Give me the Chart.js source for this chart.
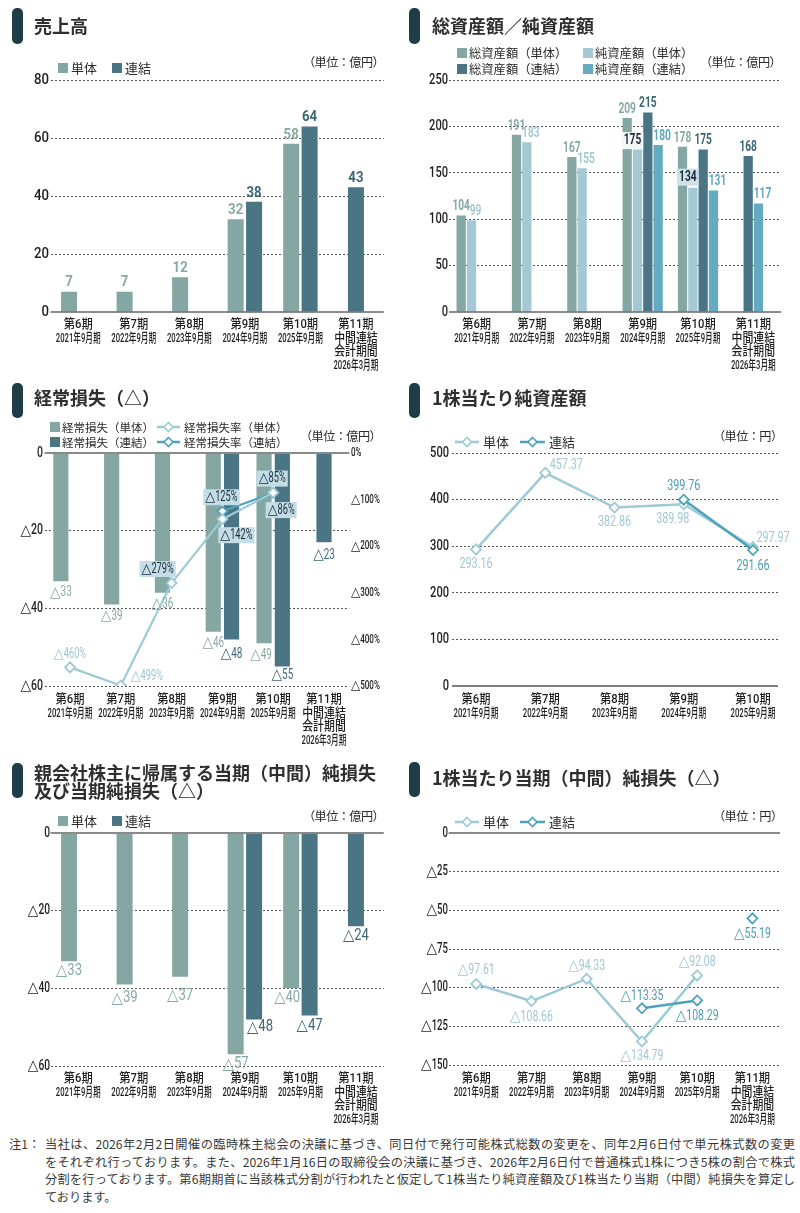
<!DOCTYPE html>
<html lang="ja">
<head>
<meta charset="UTF-8">
<title>業績ハイライト</title>
<script src="https://cdn.jsdelivr.net/npm/chart.js@4"></script>
<style>
  body {
    margin: 0;
    width: 800px;
    height: 1213px;
    position: relative;
    background: #fff;
    color: #333;
    font-family: Roboto, "Noto Sans CJK JP", sans-serif;
    overflow: hidden;
  }
  .panel { position: absolute; width: 400px; }
  .panel canvas { position: absolute; left: 0; top: 0; }
  .mark { position: absolute; width: 10.5px; background: #1e3d47; border-radius: 5px; }
  .ttl {
    position: absolute;
    font-family: "Noto Sans CJK JP", sans-serif;
    font-weight: bold;
    font-size: 18px;
    line-height: 18.5px;
    white-space: nowrap;
    color: #2f2f2f;
  }
  .unit {
    position: absolute;
    font-family: "Noto Sans CJK JP", sans-serif;
    font-size: 12.2px;
    letter-spacing: -0.6px;
    line-height: 14px;
    white-space: nowrap;
    color: #2a2a2a;
  }
  .lg {
    position: absolute;
    font-family: "Noto Sans CJK JP", sans-serif;
    font-size: 13px;
    line-height: 16px;
    white-space: nowrap;
    color: #2a2a2a;
  }
  .sq { position: absolute; width: 10px; height: 10px; }
  .ico { position: absolute; }
  .note {
    position: absolute;
    left: 0;
    top: 1136px;
    width: 800px;
    font-family: "Noto Sans CJK JP", sans-serif;
    font-size: 12.2px;
    line-height: 17.5px;
    color: #3a3a3a;
  }
  .note div { margin-left: 45px; width: 750px; white-space: nowrap; }
  .note div.full { text-align: justify; text-align-last: justify; }
  .note span { position: absolute; left: 9px; top: 0; }
</style>
</head>
<body>

<!-- 売上高 -->
<div class="panel" style="left:0;top:0;height:380px">
  <canvas id="c1" width="400" height="380"></canvas>
  <div class="mark" style="left:12px;top:8px;height:36px"></div>
  <div class="ttl" style="left:34px;top:16px">売上高</div>
  <div class="sq" style="left:58px;top:63px;background:#84a7a4"></div>
  <div class="lg" style="left:71px;top:60px">単体</div>
  <div class="sq" style="left:112px;top:63px;background:#4a7585"></div>
  <div class="lg" style="left:125px;top:60px">連結</div>
  <div class="unit" style="left:303px;top:55px">（単位：億円）</div>
</div>

<!-- 総資産額／純資産額 -->
<div class="panel" style="left:400px;top:0;height:380px">
  <canvas id="c2" width="400" height="380"></canvas>
  <div class="mark" style="left:9px;top:8px;height:36px"></div>
  <div class="ttl" style="left:32px;top:16px">総資産額／純資産額</div>
  <div class="sq" style="left:57px;top:48px;background:#84a7a4"></div>
  <div class="lg" style="left:69px;top:44.5px;font-size:12.3px">総資産額（単体）</div>
  <div class="sq" style="left:183px;top:48px;background:#a5c9d4"></div>
  <div class="lg" style="left:195px;top:44.5px;font-size:12.3px">純資産額（単体）</div>
  <div class="sq" style="left:57px;top:64px;background:#4a7585"></div>
  <div class="lg" style="left:69px;top:60.5px;font-size:12.3px">総資産額（連結）</div>
  <div class="sq" style="left:183px;top:64px;background:#64abc1"></div>
  <div class="lg" style="left:195px;top:60.5px;font-size:12.3px">純資産額（連結）</div>
  <div class="unit" style="left:300px;top:55px">（単位：億円）</div>
</div>

<!-- 経常損失 -->
<div class="panel" style="left:0;top:380px;height:370px">
  <canvas id="c3" width="400" height="370"></canvas>
  <div class="mark" style="left:12px;top:3px;height:35px"></div>
  <div class="ttl" style="left:34px;top:8px">経常損失（△）</div>
  <div class="sq" style="left:50px;top:42px;background:#84a7a4"></div>
  <div class="lg" style="left:62px;top:39px;font-size:11.5px">経常損失（単体）</div>
  <svg class="ico" style="left:157px;top:41px" width="23" height="12"><line x1="0" y1="6" x2="23" y2="6" stroke="#9dcad6" stroke-width="2.5"/><polygon points="11.5,1.5 16,6 11.5,10.5 7,6" fill="#fff" stroke="#9dcad6" stroke-width="1.6"/></svg>
  <div class="lg" style="left:184px;top:39px;font-size:11.5px">経常損失率（単体）</div>
  <div class="sq" style="left:50px;top:57px;background:#4a7585"></div>
  <div class="lg" style="left:62px;top:54px;font-size:11.5px">経常損失（連結）</div>
  <svg class="ico" style="left:157px;top:56px" width="23" height="12"><line x1="0" y1="6" x2="23" y2="6" stroke="#4ea2ba" stroke-width="2.5"/><polygon points="11.5,1.5 16,6 11.5,10.5 7,6" fill="#fff" stroke="#4ea2ba" stroke-width="1.6"/></svg>
  <div class="lg" style="left:184px;top:54px;font-size:11.5px">経常損失率（連結）</div>
  <div class="unit" style="left:300px;top:49px">（単位：億円）</div>
</div>

<!-- 1株当たり純資産額 -->
<div class="panel" style="left:400px;top:380px;height:370px">
  <canvas id="c4" width="400" height="370"></canvas>
  <div class="mark" style="left:9px;top:3px;height:35px"></div>
  <div class="ttl" style="left:32px;top:8px">1株当たり純資産額</div>
  <svg class="ico" style="left:55px;top:56px" width="24" height="12"><line x1="0" y1="6" x2="24" y2="6" stroke="#9dcad6" stroke-width="2.5"/><polygon points="12,1.5 16.5,6 12,10.5 7.5,6" fill="#fff" stroke="#9dcad6" stroke-width="1.6"/></svg>
  <div class="lg" style="left:83px;top:54px">単体</div>
  <svg class="ico" style="left:120px;top:56px" width="25" height="12"><line x1="0" y1="6" x2="25" y2="6" stroke="#4ea2ba" stroke-width="2.5"/><polygon points="12.5,1.5 17,6 12.5,10.5 8,6" fill="#fff" stroke="#4ea2ba" stroke-width="1.6"/></svg>
  <div class="lg" style="left:149px;top:54px">連結</div>
  <div class="unit" style="left:313px;top:49px">（単位：円）</div>
</div>

<!-- 親会社株主に帰属する当期（中間）純損失 -->
<div class="panel" style="left:0;top:750px;height:385px">
  <canvas id="c5" width="400" height="385"></canvas>
  <div class="mark" style="left:12px;top:13px;height:35px"></div>
  <div class="ttl" style="left:34px;top:12.5px">親会社株主に帰属する当期（中間）純損失<br>及び当期純損失（△）</div>
  <div class="sq" style="left:58px;top:66px;background:#84a7a4"></div>
  <div class="lg" style="left:71px;top:63px">単体</div>
  <div class="sq" style="left:112px;top:66px;background:#4a7585"></div>
  <div class="lg" style="left:125px;top:63px">連結</div>
  <div class="unit" style="left:303px;top:59px">（単位：億円）</div>
</div>

<!-- 1株当たり当期（中間）純損失 -->
<div class="panel" style="left:400px;top:750px;height:385px">
  <canvas id="c6" width="400" height="385"></canvas>
  <div class="mark" style="left:9px;top:12px;height:35px"></div>
  <div class="ttl" style="left:32px;top:18px">1株当たり当期（中間）純損失（△）</div>
  <svg class="ico" style="left:55px;top:66px" width="24" height="12"><line x1="0" y1="6" x2="24" y2="6" stroke="#9dcad6" stroke-width="2.5"/><polygon points="12,1.5 16.5,6 12,10.5 7.5,6" fill="#fff" stroke="#9dcad6" stroke-width="1.6"/></svg>
  <div class="lg" style="left:83px;top:64px">単体</div>
  <svg class="ico" style="left:120px;top:66px" width="25" height="12"><line x1="0" y1="6" x2="25" y2="6" stroke="#4ea2ba" stroke-width="2.5"/><polygon points="12.5,1.5 17,6 12.5,10.5 8,6" fill="#fff" stroke="#4ea2ba" stroke-width="1.6"/></svg>
  <div class="lg" style="left:149px;top:64px">連結</div>
  <div class="unit" style="left:313px;top:59px">（単位：円）</div>
</div>

<div class="note">
  <span>注1：</span>
  <div class="full">当社は、2026年2月2日開催の臨時株主総会の決議に基づき、同日付で発行可能株式総数の変更を、同年2月6日付で単元株式数の変更</div>
  <div class="full">をそれぞれ行っております。また、2026年1月16日の取締役会の決議に基づき、2026年2月6日付で普通株式1株につき5株の割合で株式</div>
  <div class="full">分割を行っております。第6期期首に当該株式分割が行われたと仮定して1株当たり純資産額及び1株当たり当期（中間）純損失を算定し</div>
  <div>ております。</div>
</div>

<script>
// ---- data ----
const periods = [
  ['第6期', '2021年9月期'],
  ['第7期', '2022年9月期'],
  ['第8期', '2023年9月期'],
  ['第9期', '2024年9月期'],
  ['第10期', '2025年9月期'],
  ['第11期', '中間連結', '会計期間', '2026年3月期']
];
const bpsPeriods = periods.slice(0, 5);

const salesSingle = [7, 7, 12, 32, 58, null];
const salesConsol = [null, null, null, 38, 64, 43];

const totalAssetsSingle = [104, 191, 167, 209, 178, null];
const netAssetsSingle = [99, 183, 155, 175, 134, null];
const totalAssetsConsol = [null, null, null, 215, 175, 168];
const netAssetsConsol = [null, null, null, 180, 131, 117];

const ordLossSingle = [-33, -39, -36, -46, -49, null];
const ordLossConsol = [null, null, null, -48, -55, -23];
const ordLossRateSingle = [-460, -499, -279, -142, -85, null];
const ordLossRateConsol = [null, null, null, -125, -86, null];

const bpsSingle = [293.16, 457.37, 382.86, 389.98, 297.97];
const bpsConsol = [null, null, null, 399.76, 291.66];

const netLossSingle = [-33, -39, -37, -57, -40, null];
const netLossConsol = [null, null, null, -48, -47, -24];

const epsSingle = [-97.61, -108.66, -94.33, -134.79, -92.08, null];
const epsConsol = [null, null, null, -113.35, -108.29, -55.19];

// ---- colours ----
const C = {
  single: '#84a7a4',
  consol: '#4a7585',
  netSingle: '#a5c9d4',
  netConsol: '#64abc1',
  lineSingle: '#9dcad6',
  lineConsol: '#4ea2ba',
  lblSingle: '#87a9a6',
  lblConsol: '#3d6676',
  lblLineSingle: '#9cc6d3',
  lblLineConsol: '#4c9cb5',
  dark: '#1d2a3a'
};
const FONT = 'Roboto, "Noto Sans CJK JP", sans-serif';
const TRI_FONT = '"DejaVu Sans", sans-serif';
const last = periods.length - 1;
const onlyBefore = arr => arr.map((v, i) => (i < last ? v : null));
const onlyLast = arr => arr.map((v, i) => (i === last ? v : null));

const tri = v => (v < 0 ? '△' + Math.abs(v) : String(v));
const tri2 = v => '△' + Math.abs(v).toFixed(2);
const pct = v => (v < 0 ? '△' + Math.abs(v) + '%' : '0%');

// text squeezed horizontally, like the condensed face of the original;
// a leading △ is set in its own face so it keeps its size
function txt(ctx, s, x, y, o) {
  ctx.save();
  ctx.textBaseline = 'middle';
  ctx.textAlign = 'left';
  const weight = o.weight || 'normal';
  const sx = o.sx || 1;
  const hasTri = s.charAt(0) === '△';
  const rest = hasTri ? s.slice(1) : s;
  const triFont = 'normal ' + o.size + 'px ' + TRI_FONT;
  let triW = 0;
  if (hasTri) {
    ctx.font = triFont;
    triW = ctx.measureText('△').width * 0.92;
  }
  ctx.font = weight + ' ' + o.size + 'px ' + FONT;
  const restW = ctx.measureText(rest).width * sx;
  const w = triW + restW;
  const left = o.align === 'right' ? x - w : o.align === 'left' ? x : x - w / 2;
  if (o.bg) {
    ctx.fillStyle = o.bg;
    ctx.fillRect(left - 2, y - o.size / 2 - 1, w + 4, o.size + 2);
  }
  ctx.fillStyle = o.color;
  if (hasTri) {
    ctx.save();
    ctx.font = triFont;
    ctx.translate(left, y);
    ctx.scale(0.92, 1);
    ctx.fillText('△', 0, 0);
    ctx.restore();
  }
  ctx.translate(left + triW, y);
  ctx.scale(sx, 1);
  ctx.fillText(rest, 0, 0);
  ctx.restore();
}

const deco = {
  id: 'deco',
  afterDatasetsDraw(chart, args, o) {
    const ctx = chart.ctx, a = chart.chartArea, y = chart.scales.y;
    // zero line
    const py = y.getPixelForValue(0);
    ctx.save();
    ctx.strokeStyle = o.zeroColor;
    ctx.lineWidth = o.zeroWidth;
    ctx.beginPath();
    ctx.moveTo(a.left, py);
    ctx.lineTo(a.right, py);
    ctx.stroke();
    ctx.restore();
    // value labels
    (o.vals || []).forEach((cfg, di) => {
      if (!cfg) return;
      const meta = chart.getDatasetMeta(di);
      const data = chart.data.datasets[di].data;
      meta.data.forEach((el, i) => {
        const raw = data[i];
        const v = raw !== null && typeof raw === 'object' ? raw.y : raw;
        if (v === null || v === undefined) return;
        const c = Object.assign({}, cfg, (cfg.over || {})[i]);
        txt(ctx, c.fmt(v), el.x + (c.dx || 0), el.y + (c.dy || 0), c);
      });
    });
  },
  afterDraw(chart, args, o) {
    const ctx = chart.ctx, a = chart.chartArea, x = chart.scales.x, y = chart.scales.y;
    const cats = o.cats || chart.data.labels;
    cats.forEach((lines, i) => {
      const px = x.getPixelForValue(i);
      lines.forEach((s, j) => {
        const sx = j === 0 ? 0.88 : (/年/.test(s) ? 0.6 : 0.85);
        txt(ctx, s, px, a.bottom + o.xTop + j * 13.5, { size: 12.8, weight: '500', color: '#1e1e1e', sx });
      });
    });
    y.ticks.forEach(t => {
      txt(ctx, o.yFmt(t.value), o.yRight, y.getPixelForValue(t.value),
        { size: 15, weight: '500', color: '#1e1e1e', sx: o.ySx, align: 'right' });
    });
    if (o.y2Left) {
      const y2 = chart.scales.y2;
      y2.ticks.forEach(t => {
        txt(ctx, pct(t.value), o.y2Left, y2.getPixelForValue(t.value),
          { size: 13, weight: '500', color: '#1e1e1e', sx: 0.62, align: 'left' });
      });
    }
  }
};

function yAxis(min, max, step, extra) {
  return Object.assign({
    min, max,
    ticks: { display: false, stepSize: step },
    grid: {
      color: c => (c.tick && c.tick.value === 0 ? 'rgba(0,0,0,0)' : '#555'),
      lineWidth: 1,
      drawTicks: false
    },
    border: { display: false, dash: [2, 2] },
    afterFit: s => { s.width = 0; }
  }, extra || {});
}

function options(pad, scales, decoOpts) {
  return {
    responsive: false,
    animation: false,
    events: [],
    layout: { padding: pad },
    plugins: { legend: { display: false }, tooltip: { enabled: false }, deco: decoOpts },
    scales
  };
}

function lineSet(data, color, extra) {
  return Object.assign({
    type: 'line',
    data,
    borderColor: color,
    borderWidth: 2.5,
    pointStyle: 'rectRot',
    pointRadius: 5,
    pointBackgroundColor: '#fff',
    pointBorderColor: color,
    pointBorderWidth: 1.8,
    spanGaps: false
  }, extra || {});
}

// ---- 売上高 ----
const bar1 = { categoryPercentage: 0.663, barPercentage: 0.87 };
new Chart(document.getElementById('c1'), {
  type: 'bar',
  data: {
    labels: periods,
    datasets: [
      Object.assign({ data: salesSingle, backgroundColor: C.single }, bar1),
      Object.assign({ data: onlyBefore(salesConsol), backgroundColor: C.consol }, bar1),
      { data: onlyLast(salesConsol), backgroundColor: C.consol, grouped: false,
        categoryPercentage: 0.663, barPercentage: 0.435 }
    ]
  },
  options: options({ left: 50.5, right: 16.3, top: 80, bottom: 68 },
    { x: { display: false }, y: yAxis(0, 80, 20) },
    {
      zeroColor: '#666', zeroWidth: 1.5, xTop: 13, yRight: 49, ySx: 0.88, yFmt: tri,
      vals: [
        { fmt: tri, color: C.lblSingle, size: 15, weight: 'bold', sx: 0.88, dy: -9 },
        { fmt: tri, color: C.lblConsol, size: 15, weight: 'bold', sx: 0.88, dy: -9 },
        { fmt: tri, color: C.lblConsol, size: 15, weight: 'bold', sx: 0.88, dy: -9 }
      ]
    }),
  plugins: [deco]
});

// ---- 総資産額／純資産額 ----
const bar2 = { categoryPercentage: 0.746, barPercentage: 0.9 };
const lbl2 = (color, dx, over) => ({ fmt: tri, color, size: 15, weight: 'bold', sx: 0.68, dx, dy: -9, over });
new Chart(document.getElementById('c2'), {
  type: 'bar',
  data: {
    labels: periods,
    datasets: [
      Object.assign({ data: totalAssetsSingle, backgroundColor: C.single, stack: 'a' }, bar2),
      Object.assign({ data: netAssetsSingle, backgroundColor: C.netSingle, stack: 'b' }, bar2),
      Object.assign({ data: onlyBefore(totalAssetsConsol), backgroundColor: C.consol, stack: 'c' }, bar2),
      Object.assign({ data: onlyBefore(netAssetsConsol), backgroundColor: C.netConsol, stack: 'd' }, bar2),
      Object.assign({ data: onlyLast(totalAssetsConsol), backgroundColor: C.consol, stack: 'b' }, bar2),
      Object.assign({ data: onlyLast(netAssetsConsol), backgroundColor: C.netConsol, stack: 'c' }, bar2)
    ]
  },
  options: options({ left: 49, right: 19, top: 80, bottom: 68 },
    { x: { display: false, stacked: true }, y: yAxis(0, 250, 50, { stacked: false }) },
    {
      zeroColor: '#666', zeroWidth: 1.5, xTop: 13, yRight: 48, ySx: 0.74, yFmt: tri,
      vals: [
        lbl2('#86a8a5', 0),
        lbl2('#a5c8d3', 4, {
          3: { dx: -5, color: C.dark, bg: '#f3f7f8' },
          4: { dx: -5, dy: -10.5, color: C.dark, bg: '#cfe1e8' }
        }),
        lbl2('#3c6575', 0),
        lbl2('#5fa7bd', 4),
        lbl2('#3c6575', 0),
        lbl2('#5fa7bd', 4)
      ]
    }),
  plugins: [deco]
});

// ---- 経常損失 ----
const bar3 = { categoryPercentage: 0.72, barPercentage: 0.83 };
const boxed = { color: C.dark, bg: '#c3dde7' };
new Chart(document.getElementById('c3'), {
  type: 'bar',
  data: {
    labels: periods,
    datasets: [
      lineSet(ordLossRateSingle, C.lineSingle, { yAxisID: 'y2', borderWidth: 2.2 }),
      lineSet(ordLossRateConsol, C.lineConsol, { yAxisID: 'y2', borderWidth: 2.2 }),
      Object.assign({ data: ordLossSingle, backgroundColor: C.single }, bar3),
      Object.assign({ data: onlyBefore(ordLossConsol), backgroundColor: C.consol }, bar3),
      { data: onlyLast(ordLossConsol), backgroundColor: C.consol, grouped: false,
        categoryPercentage: 0.72, barPercentage: 0.415 }
    ]
  },
  options: options({ left: 44.6, right: 50.6, top: 73, bottom: 64 },
    {
      x: { display: false },
      y: yAxis(-60, 0, 20),
      y2: yAxis(-500, 0, 100, { position: 'right', grid: { display: false } })
    },
    {
      zeroColor: '#8a8a8a', zeroWidth: 2, xTop: 14, yRight: 43, ySx: 0.7, yFmt: tri, y2Left: 351,
      vals: [
        { fmt: pct, color: C.lblLineSingle, size: 14, sx: 0.66, over: {
          0: { dy: -13 },
          1: { dx: 26, dy: -9 },
          2: Object.assign({ dx: -14, dy: -14 }, boxed),
          3: Object.assign({ dx: 14, dy: 16 }, boxed),
          4: Object.assign({ dx: -1, dy: -14 }, boxed)
        } },
        { fmt: pct, color: C.lblLineConsol, size: 14, sx: 0.66, over: {
          3: Object.assign({ dx: -1, dy: -14 }, boxed),
          4: Object.assign({ dx: 8, dy: 17 }, boxed)
        } },
        { fmt: tri, color: C.lblSingle, size: 15, sx: 0.66, dy: 11.5, over: { 4: { dx: -3 } } },
        { fmt: tri, color: C.lblConsol, size: 15, sx: 0.66, dy: 13, over: { 3: { dy: 15 }, 4: { dy: 9 } } },
        { fmt: tri, color: C.lblConsol, size: 15, sx: 0.66, dy: 13 }
      ]
    }),
  plugins: [deco]
});

// ---- 1株当たり純資産額 ----
const pts = arr => arr.map((v, i) => ({ x: i, y: v }));
new Chart(document.getElementById('c4'), {
  type: 'line',
  data: {
    datasets: [
      lineSet(pts(bpsConsol), C.lineConsol),
      lineSet(pts(bpsSingle), C.lineSingle)
    ]
  },
  options: options({ left: 52, right: 22, top: 73, bottom: 64 },
    { x: { type: 'linear', display: false, min: -0.347, max: 4.361 }, y: yAxis(0, 500, 100) },
    {
      cats: bpsPeriods,
      zeroColor: '#555', zeroWidth: 1.5, xTop: 14, yRight: 49, ySx: 0.74, yFmt: tri,
      vals: [
        { fmt: v => v.toFixed(2), color: C.lblLineConsol, size: 15, sx: 0.72, over: {
          3: { dy: -13 }, 4: { dy: 16 }
        } },
        { fmt: v => v.toFixed(2), color: '#a0c8d5', size: 15, sx: 0.72, over: {
          0: { dy: 15 }, 1: { dx: 21, dy: -8 }, 2: { dy: 15 }, 3: { dx: -11, dy: 15 }, 4: { dx: 20, dy: -9 }
        } }
      ]
    }),
  plugins: [deco]
});

// ---- 親会社株主に帰属する当期純損失 ----
new Chart(document.getElementById('c5'), {
  type: 'bar',
  data: {
    labels: periods,
    datasets: [
      Object.assign({ data: netLossSingle, backgroundColor: C.single }, bar1),
      Object.assign({ data: onlyBefore(netLossConsol), backgroundColor: C.consol }, bar1),
      { data: onlyLast(netLossConsol), backgroundColor: C.consol, grouped: false,
        categoryPercentage: 0.663, barPercentage: 0.435 }
    ]
  },
  options: options({ left: 50.5, right: 16.3, top: 83, bottom: 69 },
    { x: { display: false }, y: yAxis(-60, 0, 20) },
    {
      zeroColor: '#8a8a8a', zeroWidth: 2, xTop: 13, yRight: 50, ySx: 0.68, yFmt: tri,
      vals: [
        { fmt: tri, color: C.lblSingle, size: 16, sx: 0.82, dy: 10, over: { 1: { dy: 14 }, 2: { dy: 19 }, 4: { dx: -4 } } },
        { fmt: tri, color: C.lblConsol, size: 16, sx: 0.82, dy: 10, over: { 3: { dx: 6, dy: 8 } } },
        { fmt: tri, color: C.lblConsol, size: 16, sx: 0.82, dy: 10 }
      ]
    }),
  plugins: [deco]
});

// ---- 1株当たり当期純損失 ----
new Chart(document.getElementById('c6'), {
  type: 'line',
  data: {
    labels: periods,
    datasets: [
      lineSet(epsConsol, C.lineConsol, {
        segment: { borderColor: c => (c.p1DataIndex === last ? 'rgba(0,0,0,0)' : undefined) }
      }),
      lineSet(epsSingle, C.lineSingle)
    ]
  },
  options: options({ left: 48.6, right: 20, top: 83, bottom: 70 },
    { x: { display: false, offset: true }, y: yAxis(-150, 0, 25) },
    {
      zeroColor: '#8a8a8a', zeroWidth: 2, xTop: 14, yRight: 48, ySx: 0.64, yFmt: tri,
      vals: [
        { fmt: tri2, color: C.lblLineConsol, size: 15, sx: 0.7, over: {
          3: { dy: -12 }, 4: { dy: 16 }, 5: { dy: 16 }
        } },
        { fmt: tri2, color: '#a0c8d5', size: 15, sx: 0.7, over: {
          0: { dy: -14 }, 1: { dy: 16 }, 2: { dy: -13 }, 3: { dy: 15 }, 4: { dy: -13 }
        } }
      ]
    }),
  plugins: [deco]
});
</script>
</body>
</html>
